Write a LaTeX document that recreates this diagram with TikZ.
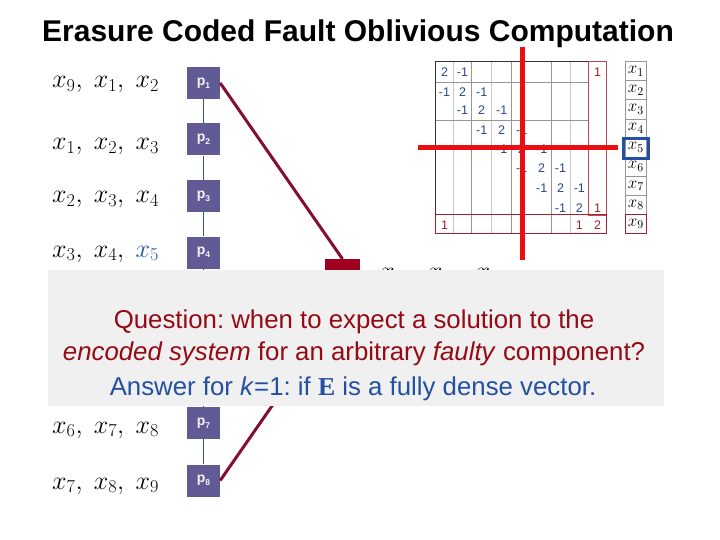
\RequirePackage{fix-cm}
\documentclass[tikz,border=0pt]{standalone}
\usepackage{fontspec}
\setmainfont{Liberation Sans}
\newfontfamily\serifbf{Liberation Serif}
\frenchspacing
\definecolor{pboxc}{RGB}{96,91,148}
\definecolor{chainc}{RGB}{47,85,151}
\definecolor{maroonc}{RGB}{130,14,48}
\definecolor{blockc}{RGB}{160,0,32}
\definecolor{greyc}{RGB}{240,240,240}
\definecolor{qred}{RGB}{150,10,20}
\definecolor{ablue}{RGB}{35,80,160}
\definecolor{entblue}{RGB}{40,70,140}
\definecolor{entred}{RGB}{170,30,40}
\definecolor{redline}{RGB}{235,15,20}
\definecolor{gridc}{RGB}{150,150,150}
\definecolor{gridl}{RGB}{200,200,200}
\tikzset{
  pbox/.style={fill=pboxc, minimum width=33pt, minimum height=32pt, inner sep=0pt,
    text=white!92!pboxc, font=\fontsize{14}{15}\selectfont\bfseries},
  lab/.style={anchor=base west, inner sep=0pt, font=\fontsize{26}{29}\selectfont},
  ent/.style={anchor=base, inner sep=0pt, font=\fontsize{12.5}{14}\selectfont, text=entblue},
  entr/.style={ent, text=entred},
  vec/.style={anchor=center, inner sep=0pt, font=\fontsize{17}{18}\selectfont},
  boxtxt/.style={anchor=base, inner sep=0pt, font=\fontsize{25.8}{30}\selectfont},
}
\begin{document}
\begin{tikzpicture}[x=1pt,y=-1pt]
\useasboundingbox (0,0) rectangle (720,540);
% title
\node[anchor=base, inner sep=0pt, font=\fontsize{30}{34}\selectfont\bfseries] (title) at (358,42) {Erasure Coded Fault Oblivious Computation};

% p boxes
\foreach \i/\y in {1/83,2/139.5,3/196,4/252.5,7/423,8/480.5}{
  \node[pbox] (p\i) at (203.5,\y) {p\raisebox{-3pt}{\fontsize{8.5}{9}\selectfont\i}};
}
\node[pbox] (p5) at (203.5,309) {};
\node[pbox] (p6) at (203.5,366) {};
\foreach \a/\b in {1/2,2/3,3/4,4/5,5/6,6/7,7/8}{
  \draw[chainc, line width=1.8pt] (p\a.south) -- (p\b.north);
}

% left labels
\node[lab] (l1) at (52,88) {$x_9,\hskip7pt x_1,\hskip7pt x_2$};
\node[lab] (l2) at (52,150) {$x_1,\hskip7pt x_2,\hskip7pt x_3$};
\node[lab] (l3) at (52,203) {$x_2,\hskip7pt x_3,\hskip7pt x_4$};
\node[lab] (l4) at (52,257) {$x_3,\hskip7pt x_4,\hskip7pt \textcolor{ablue}{x_5}$};
\node[lab] (l7) at (52,433) {$x_6,\hskip7pt x_7,\hskip7pt x_8$};
\node[lab] (l8) at (52,489) {$x_7,\hskip7pt x_8,\hskip7pt x_9$};

% E block and connectors
\node[fill=blockc, minimum width=35pt, minimum height=45pt, inner sep=0pt, anchor=north] (E) at (342.5,259) {};
\draw[maroonc, line width=3pt] (p1.east) -- (E.north);
\draw[maroonc, line width=3pt] (p8.east) -- (E.south);
\node[lab] (hid) at (380,279.5) {$x_4,\hskip13pt x_5,\hskip13pt x_6$};

% matrix grid
\foreach \xx in {453.3,491.7,570}{ \draw[gridl, line width=0.6pt] (\xx,61.7) -- (\xx,233.3); }
\foreach \xx in {471.7,511.7,551.7}{ \draw[gridc, line width=0.7pt] (\xx,61.7) -- (\xx,233.3); }
\foreach \yy in {82.3,120}{ \draw[gridc, line width=0.7pt] (435,\yy) -- (588.3,\yy); }
\draw[black!80, line width=0.8pt] (435,233.3) -- (435,61.7) -- (588.3,61.7);
\draw[entred!80, line width=0.6pt] (588.3,61.7) rectangle (606.7,215);
\draw[entred, line width=1pt] (435,215) rectangle (606.7,233.3);

% entries
\foreach \c/\r/\v in {1/1/2,2/1/-1,1/2/-1,2/2/2,3/2/-1,2/3/-1,3/3/2,4/3/-1,3/4/-1,4/4/2,5/4/-1,
  4/5/-1,5/5/2,6/5/-1,5/6/-1,6/6/2,7/6/-1,6/7/-1,7/7/2,8/7/-1,7/8/-1,8/8/2}{
  \pgfmathsetmacro{\cx}{{444.5,462.5,481.7,501.7,521.7,541.7,560.5,579.3,597.5}[\c-1]}
  \pgfmathsetmacro{\ry}{{71.7,92.5,110.5,130,149.3,168.3,188.3,208,225}[\r-1]+4.5}
  \node[ent] at (\cx,\ry) {\v};
}
\foreach \c/\r/\v in {9/1/1,9/8/1,1/9/1,8/9/1,9/9/2}{
  \pgfmathsetmacro{\cx}{{444.5,462.5,481.7,501.7,521.7,541.7,560.5,579.3,597.5}[\c-1]}
  \pgfmathsetmacro{\ry}{{71.7,92.5,110.5,130,149.3,168.3,188.3,208,225}[\r-1]+4.5}
  \node[entr] at (\cx,\ry) {\v};
}

% vector
\foreach \i in {1,...,8}{
  \node[vec, draw=gridc, line width=0.7pt, minimum width=21.7pt, minimum height=19.07pt] (v\i) at (635.85,{61.7+19.07*(\i-0.5)}) {$x_{\i}$};
}
\node[vec, draw=entred, line width=0.8pt, minimum width=21.7pt, minimum height=19.07pt] (v9) at (635.85,{61.7+19.07*8.5}) {$x_9$};
\draw[ablue, line width=3pt] (623.3,138.3) rectangle (648.3,158.3);

% red cross lines
\draw[redline, line width=4.5pt] (522.7,47) -- (522.7,260);
\draw[redline, line width=4.5pt] (418,147.5) -- (618,147.5);

% grey overlay box
\node[fill=greyc, minimum width=616pt, minimum height=136pt, inner sep=0pt, anchor=north west] (gbox) at (48,270) {};
\node[boxtxt, text=qred] (q1) at (354,328.5) {Question: when to expect a solution to the};
\node[boxtxt, text=qred] (q2) at (354,360.5) {\textit{encoded system} for an arbitrary \textit{faulty} component?};
\node[boxtxt, text=ablue] (q3) at (353,395.5) {Answer for \textit{k}=1: if {\serifbf\bfseries E} is a fully dense vector.};
\end{tikzpicture}
\end{document}
